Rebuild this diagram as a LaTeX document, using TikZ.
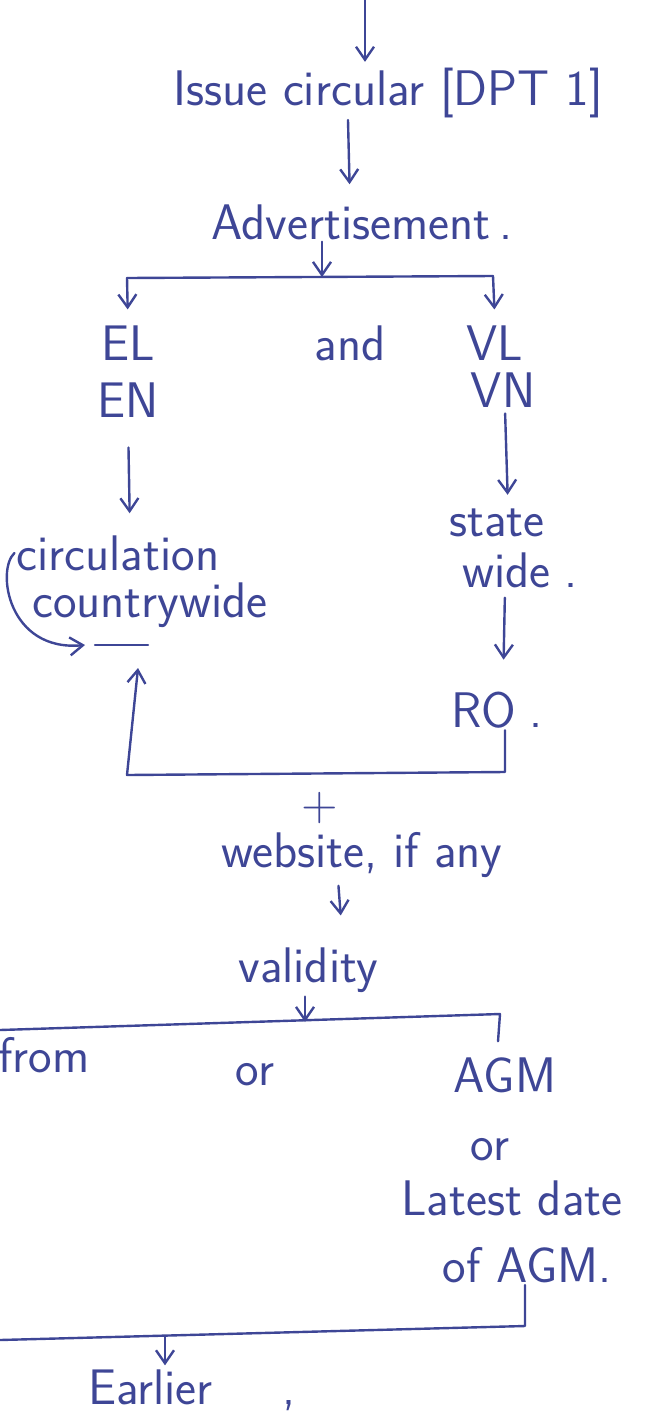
\documentclass[tikz,border=0pt]{standalone}
\usepackage{tikz}
\usetikzlibrary{positioning, arrows.meta, calc}
\definecolor{ink}{RGB}{62,70,150}
\tikzset{
  txt/.style={text=ink, font=\sffamily\fontsize{50}{58}\selectfont, inner sep=2pt},
  line/.style={draw=ink, line width=2.4pt, line cap=round, line join=round},
  arrow/.style={line, ->, >={Straight Barb[length=13pt, width=18pt, line width=2.4pt]}}
}

\begin{document}
\begin{tikzpicture}[x=1pt, y=-1pt]
        \useasboundingbox (0,0) rectangle (650,1414);

        \node (issue) [txt] at (388,93) {Issue circular [DPT 1]};
        \node (advert) [txt] at (362,222) {Advertisement\,.};
        \node (el) [txt] at (128,343) {EL};
        \node (en) [txt] at (128,400) {EN};
        \node (andw) [txt] at (350,343) {and};
        \node (vl) [txt] at (495,343) {VL};
        \node (vn) [txt] at (503,390) {VN};
        \node (circ) [txt] at (118,553) {circulation};
        \node (cwide) [txt] at (150,605) {countrywide};
        \node (state) [txt] at (497,523) {state};
        \node (swide) [txt] at (520,570) {wide\;.};
        \node (ro) [txt] at (497,710) {RO\;.};
        \node (plus) [txt] at (320,808) {+};
        \node (web) [txt] at (362,855) {website, if any};
        \node (valid) [txt] at (308,970) {validity};
        \node (from) [txt, anchor=west] at (-4,1055) {from};
        \node (or1) [txt] at (255,1075) {or};
        \node (agm) [txt] at (505,1075) {AGM};
        \node (or2) [txt] at (490,1150) {or};
        \node (latest) [txt] at (512,1198) {Latest date};
        \node (ofagm) [txt] at (527,1265) {of AGM.};
        \node (earlier) [txt, anchor=west] at (86,1390) {Earlier\hspace{1.4em},};

        \coordinate (top) at (365,0);
        \coordinate (split) at (322,277);
        \coordinate (bl) at (127,278);
        \coordinate (br) at (493,276);
        \coordinate (rcorner) at (505,772);
        \coordinate (lcorner) at (127,775);
        \coordinate (cup) at (138,668);
        \coordinate (ulA) at (95,645);
        \coordinate (ulB) at (148,645);
        \coordinate (vmid) at (305,1022);
        \coordinate (vlft) at (0,1030);
        \coordinate (vrgt) at (500,1014);
        \coordinate (brc) at (525,1326);
        \coordinate (blc) at (0,1340);
        \coordinate (bmid) at (165,1336);

        % top of the chain
        \draw [arrow, shorten >=4pt] (top) -- (top |- issue.north);
        \draw [arrow, shorten >=18pt] ([xshift=-40]issue.south) -- ([xshift=-12]advert.north);
        \draw [arrow] ([xshift=-40]advert.south) -- (split);

        % EL / EN and VL / VN branch
        \draw [line] (bl) -- (br);
        \draw [arrow, shorten >=14pt] (bl) -- (el.north);
        \draw [arrow, shorten >=14pt] (br) -- (vl.north);
        \draw [arrow, shorten <=28pt, shorten >=20pt] (en.south) -- ([xshift=12]circ.north);
        \draw [arrow, shorten <=4pt, shorten >=12pt] ([xshift=2]vn.south) -- ([xshift=11]state.north);
        \draw [arrow, shorten <=8pt, shorten >=30pt] ([xshift=-15]swide.south) -- ([xshift=6]ro.north);

        % back to countrywide
        \draw [line] (ulA) -- (ulB);
        \draw [arrow] (circ.west) .. controls (-4,570) and (8,652) .. ([xshift=-10]ulA);
        \draw [arrow] ([xshift=8]ro.south) -- (rcorner) -- (lcorner) -- (cup);

        % validity
        \draw [arrow, shorten <=6pt, shorten >=30pt] ([xshift=-24]web.south) -- ([xshift=35]valid.north);
        \draw [line] (vlft) -- (vrgt);
        \draw [arrow, shorten <=2pt] ([xshift=-3]valid.south) -- (vmid);
        \draw [line, shorten >=14pt] (vrgt) -- ([xshift=-8]agm.north);

        % earlier of the two
        \draw [line] ([xshift=-2]ofagm.south) -- (brc) -- (blc);
        \draw [arrow, shorten >=2pt] (bmid) -- (earlier.north -| bmid);
    \end{tikzpicture}
\end{document}
